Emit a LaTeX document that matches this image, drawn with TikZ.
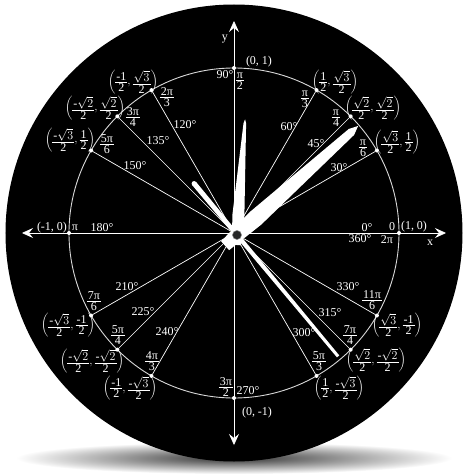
\documentclass[tikz,border=0pt]{standalone}
\usepackage{fontspec}
\setmainfont{Liberation Serif}
\usetikzlibrary{arrows.meta}

\tikzset{
	lbl/.style={text=white, inner sep=0pt, font=\fontsize{12}{14}\selectfont},
	dot/.style={circle, fill=white, inner sep=0pt, minimum size=4pt},
	ray/.style={white, line width=0.7pt},
	ring/.style={white!85!black, line width=0.9pt},
	axis/.style={white, line width=0.8pt, {Stealth[length=11pt,width=10pt,inset=4pt]}-{Stealth[length=11pt,width=10pt,inset=4pt]}},
	hand/.style={fill=white},
}

% stacked fraction and coordinate pair
\newcommand\fr[2]{\ensuremath{\vcenter{\offinterlineskip\halign{\hfil\kern1pt##\kern1pt\hfil\cr\vrule height7.8pt depth0pt width0pt#1\cr\noalign{\kern1.3pt\hrule height0.45pt\kern1.3pt}\vrule height7.8pt depth0pt width0pt#2\cr}}}}
\newcommand\crd[4]{$\left(\fr{#1}{#2},\fr{#3}{#4}\right)$}
\newcommand\sq[1]{$\sqrt{#1}$}

\begin{document}
\begin{tikzpicture}[x=1pt,y=1pt]
	\useasboundingbox[fill=white] (-234,-241) rectangle (232,233);
	\shade[inner color=black!80, outer color=white] (0,-225) ellipse [x radius=218, y radius=16];
	\fill[black] (0,0) circle (228.5);
	
	\coordinate (o) at (0,0);
	\coordinate (pin) at (3,-2);
	\coordinate (xl) at (-212,0);
	\coordinate (xr) at (212,0);
	\coordinate (yt) at (0,212);
	\coordinate (yb) at (0,-212);
	
	\draw[ring] (o) circle (165);
	\draw[axis] (xl) -- (xr);
	\draw[axis] (yb) -- (yt);
	\node[lbl] (ylab) at (-9,194) {y};
	\node[lbl] (xlab) at (196,-10) {x};
	
	\node[dot] (p0) at (0:165) {};
	\node[dot] (p30) at (30:165) {};
	\node[dot] (p45) at (45:165) {};
	\node[dot] (p60) at (60:165) {};
	\node[dot] (p90) at (90:165) {};
	\node[dot] (p120) at (120:165) {};
	\node[dot] (p135) at (135:165) {};
	\node[dot] (p150) at (150:165) {};
	\node[dot] (p180) at (180:165) {};
	\node[dot] (p210) at (210:165) {};
	\node[dot] (p225) at (225:165) {};
	\node[dot] (p240) at (240:165) {};
	\node[dot] (p270) at (270:165) {};
	\node[dot] (p300) at (300:165) {};
	\node[dot] (p315) at (315:165) {};
	\node[dot] (p330) at (330:165) {};
	
	\draw[ray] (o) -- (p30);
	\draw[ray] (o) -- (p45);
	\draw[ray] (o) -- (p60);
	\draw[ray] (o) -- (p120);
	\draw[ray] (o) -- (p135);
	\draw[ray] (o) -- (p150);
	\draw[ray] (o) -- (p210);
	\draw[ray] (o) -- (p225);
	\draw[ray] (o) -- (p240);
	\draw[ray] (o) -- (p300);
	\draw[ray] (o) -- (p315);
	\draw[ray] (o) -- (p330);
	
	% axis points
	\node[lbl] (d0) at (133,5) {0°};
	\node[lbl] (d360) at (126,-6) {360°};
	\node[lbl] (f0) at (158,6) {0};
	\node[lbl] (f360) at (153,-7) {2π};
	\node[lbl] (c0) at (180,6) {(1, 0)};
	\node[lbl] (d90) at (-9,158) {90°};
	\node[lbl] (f90) at (6,153) {\fr{π}{2}};
	\node[lbl] (c90) at (25,171) {(0, 1)};
	\node[lbl] (c180) at (-182,5) {(-1, 0)};
	\node[lbl] (f180) at (-159,5) {π};
	\node[lbl] (d180) at (-132,5) {180°};
	\node[lbl] (f270) at (-8,-154) {\fr{3π}{2}};
	\node[lbl] (d270) at (14,-158) {270°};
	\node[lbl] (c270) at (23,-180) {(0, -1)};
	
	% quadrant I
	\node[lbl] (f30) at (129,86) {\fr{π}{6}};
	\node[lbl] (c30) at (163,91) {\crd{\sq3}{2}{1}{2}};
	\node[lbl] (d30) at (105,65) {30°};
	\node[lbl] (f45) at (102,116) {\fr{π}{4}};
	\node[lbl] (c45) at (139,125) {\crd{\sq2}{2}{\sq2}{2}};
	\node[lbl] (d45) at (82,89) {45°};
	\node[lbl] (f60) at (71,135) {\fr{π}{3}};
	\node[lbl] (c60) at (101,151) {\crd{1}{2}{\sq3}{2}};
	\node[lbl] (d60) at (55,106) {60°};
	
	% quadrant II
	\node[lbl] (f120) at (-67,136) {\fr{2π}{3}};
	\node[lbl] (c120) at (-101,151) {\crd{-1}{2}{\sq3}{2}};
	\node[lbl] (d120) at (-49,108) {120°};
	\node[lbl] (f135) at (-101,116) {\fr{3π}{4}};
	\node[lbl] (c135) at (-139,125) {\crd{-\sq2}{2}{\sq2}{2}};
	\node[lbl] (d135) at (-76,92) {135°};
	\node[lbl] (f150) at (-127,89) {\fr{5π}{6}};
	\node[lbl] (c150) at (-164,93) {\crd{-\sq3}{2}{1}{2}};
	\node[lbl] (d150) at (-99,67) {150°};
	
	% quadrant III
	\node[lbl] (f210) at (-140,-68) {\fr{7π}{6}};
	\node[lbl] (c210) at (-166,-92) {\crd{-\sq3}{2}{-1}{2}};
	\node[lbl] (d210) at (-107,-54) {210°};
	\node[lbl] (f225) at (-116,-102) {\fr{5π}{4}};
	\node[lbl] (c225) at (-142,-128) {\crd{-\sq2}{2}{-\sq2}{2}};
	\node[lbl] (d225) at (-91,-79) {225°};
	\node[lbl] (f240) at (-82,-128) {\fr{4π}{3}};
	\node[lbl] (c240) at (-104,-155) {\crd{-1}{2}{-\sq3}{2}};
	\node[lbl] (d240) at (-67,-99) {240°};
	
	% quadrant IV
	\node[lbl] (f330) at (138,-67) {\fr{11π}{6}};
	\node[lbl] (c330) at (163,-92) {\crd{\sq3}{2}{-1}{2}};
	\node[lbl] (d330) at (114,-54) {330°};
	\node[lbl] (f315) at (116,-102) {\fr{7π}{4}};
	\node[lbl] (c315) at (142,-127) {\crd{\sq2}{2}{-\sq2}{2}};
	\node[lbl] (d315) at (96,-80) {315°};
	\node[lbl] (f300) at (85,-128) {\fr{5π}{3}};
	\node[lbl] (c300) at (105,-155) {\crd{1}{2}{-\sq3}{2}};
	\node[lbl] (d300) at (70,-100) {300°};
	
	% clock hands
	\fill[black!55!olive] (pin) circle (8);
	\begin{scope}[shift={(pin)},rotate=86]
		\fill[hand] (-10,-4.5) -- (20,-6) -- (112,-1.3) -- (116,0) -- (112,1.3) -- (20,6) -- (-10,4.5) -- cycle;
	\end{scope}
	\begin{scope}[shift={(pin)},rotate=42]
		\fill[hand] (-16,-6) -- (25,-8.5) -- (154,-4) -- (163,0) -- (154,4) -- (25,8.5) -- (-16,6) -- cycle;
	\end{scope}
	\begin{scope}[shift={(pin)},rotate=-50.2]
		\fill[hand] (-67,-2.5) -- (158,-1.5) -- (158,1.5) -- (-67,2.5) -- cycle;
		\fill[hand] (-67,0) circle (2.5);
	\end{scope}
	\fill[black!85] (pin) circle (4.5);
	\draw[black!50, line width=0.5pt] (pin) circle (4.5);
\end{tikzpicture}
\end{document}
